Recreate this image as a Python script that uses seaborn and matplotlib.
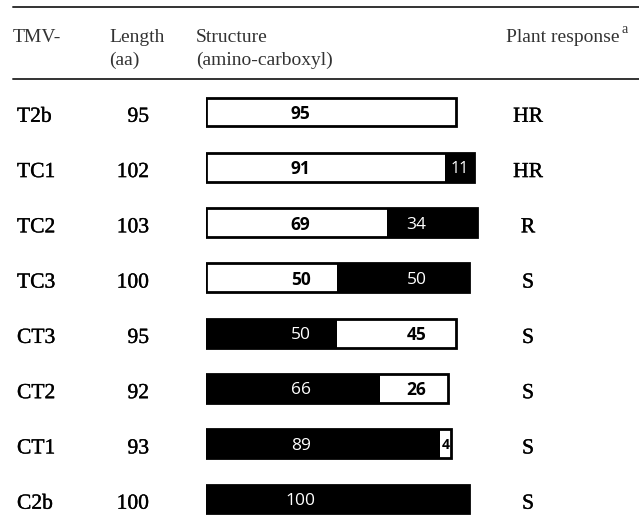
import matplotlib
matplotlib.use('Agg')
import matplotlib.pyplot as plt
import matplotlib.transforms as mtransforms
import matplotlib.patheffects as pe
from matplotlib.lines import Line2D
import seaborn as sns
import pandas as pd

# chimeric coat proteins: amino part + carboxyl part (aa)
mutants = ['T2b', 'TC1', 'TC2', 'TC3', 'CT3', 'CT2', 'CT1', 'C2b']
lengths = [95, 102, 103, 100, 95, 92, 93, 100]
amino_part = [95, 91, 69, 50, 50, 66, 89, 100]
carboxyl_part = [0, 11, 34, 50, 45, 26, 4, 0]
amino_origin = ['T', 'T', 'T', 'T', 'C', 'C', 'C', 'C']
responses = ['HR', 'HR', 'R', 'S', 'S', 'S', 'S', 'S']

sns.set_style('white')
plt.rcParams['font.family'] = ['Liberation Serif', 'DejaVu Serif']

seg_colors = {'T': 'white', 'C': 'black'}
swap = {'T': 'C', 'C': 'T'}

df = pd.DataFrame({'mutant': mutants, 'length': lengths,
                   'amino': amino_part, 'carboxyl': carboxyl_part,
                   'origin': amino_origin})

# background bar shows the carboxyl part colour, amino part drawn on top
back_pal = {}
front_pal = {}
for m, o, c in zip(mutants, amino_origin, carboxyl_part):
    front_pal[m] = seg_colors[o]
    back_pal[m] = seg_colors[swap[o]] if c > 0 else seg_colors[o]

W, H = 639, 529
fig = plt.figure(figsize=(W / 100, H / 100), dpi=100)
ax = fig.add_axes([206 / W, 1 - 526.6 / H, 273.5 / W, 442.2 / H])

common = dict(y='mutant', order=mutants, orient='h', width=0.52,
              saturation=1, errorbar=None, ax=ax)
# fills first, outline last so small segments keep their width
sns.barplot(data=df, x='length', hue='mutant', hue_order=mutants,
            palette=back_pal, legend=False, linewidth=0, **common)
sns.barplot(data=df, x='amino', hue='mutant', hue_order=mutants,
            palette=front_pal, legend=False, linewidth=0, **common)
sns.barplot(data=df, x='length', fill=False, color='black',
            linewidth=2.0, **common)

ax.set_xlim(0, 104)
ax.set_ylim(7.5, -0.5)
ax.axis('off')

# segment numbers
num_font = ['Open Sans', 'DejaVu Sans']
for i, row in df.iterrows():
    on_white = row['origin'] == 'T'
    ax.text(36, i, str(row['amino']), ha='center', va='center_baseline',
            fontsize=12.5, family=num_font,
            color='black' if on_white else 'white',
            fontweight='bold' if on_white else 'normal')
    if row['carboxyl'] > 0:
        small = row['carboxyl'] < 15
        xpos = row['amino'] + row['carboxyl'] / 2 if small else 80
        if row['carboxyl'] < 8:
            fs = 10
        elif small:
            fs = 11.5
        else:
            fs = 12.5
        ax.text(xpos, i, str(row['carboxyl']), ha='center',
                va='center_baseline', fontsize=fs, family=num_font,
                color='white' if on_white else 'black',
                fontweight='normal' if on_white else 'bold')

# table columns
tr = mtransforms.blended_transform_factory(fig.transFigure, ax.transData)
heavy = [pe.withStroke(linewidth=0.25, foreground='black')]
for i, (m, n, r) in enumerate(zip(mutants, lengths, responses)):
    for xp, txt, ha in [(17, m, 'left'), (149, str(n), 'right'),
                        (528, r, 'center')]:
        fig.text(xp / W, i + 0.05, txt, transform=tr, ha=ha,
                 va='center_baseline', fontsize=15.5, color='black',
                 path_effects=heavy)

# header
hc = '#333333'
fig.add_artist(Line2D([13 / W, 1], [1 - 7 / H] * 2, transform=fig.transFigure,
                      color=hc, lw=1.4))
fig.add_artist(Line2D([13 / W, 1], [1 - 79 / H] * 2, transform=fig.transFigure,
                      color=hc, lw=1.4))
b1 = 1 - 42 / H
b2 = 1 - 65 / H
fig.text(13 / W, b1, 'TMV-', ha='left', va='baseline', fontsize=14, color=hc)
fig.text(109 / W, b1, 'Length', ha='left', va='baseline', fontsize=14, color=hc)
fig.text(109 / W, b2, '(aa)', ha='left', va='baseline', fontsize=14, color=hc)
fig.text(196 / W, b1, 'Structure', ha='left', va='baseline', fontsize=14, color=hc)
fig.text(196 / W, b2, '(amino-carboxyl)', ha='left', va='baseline', fontsize=14, color=hc)
fig.text(620 / W, b1, 'Plant response', ha='right', va='baseline', fontsize=14, color=hc)
fig.text(622 / W, 1 - 33 / H, 'a', ha='left', va='baseline', fontsize=10, color=hc)

fig.savefig('out.png', dpi=100)
